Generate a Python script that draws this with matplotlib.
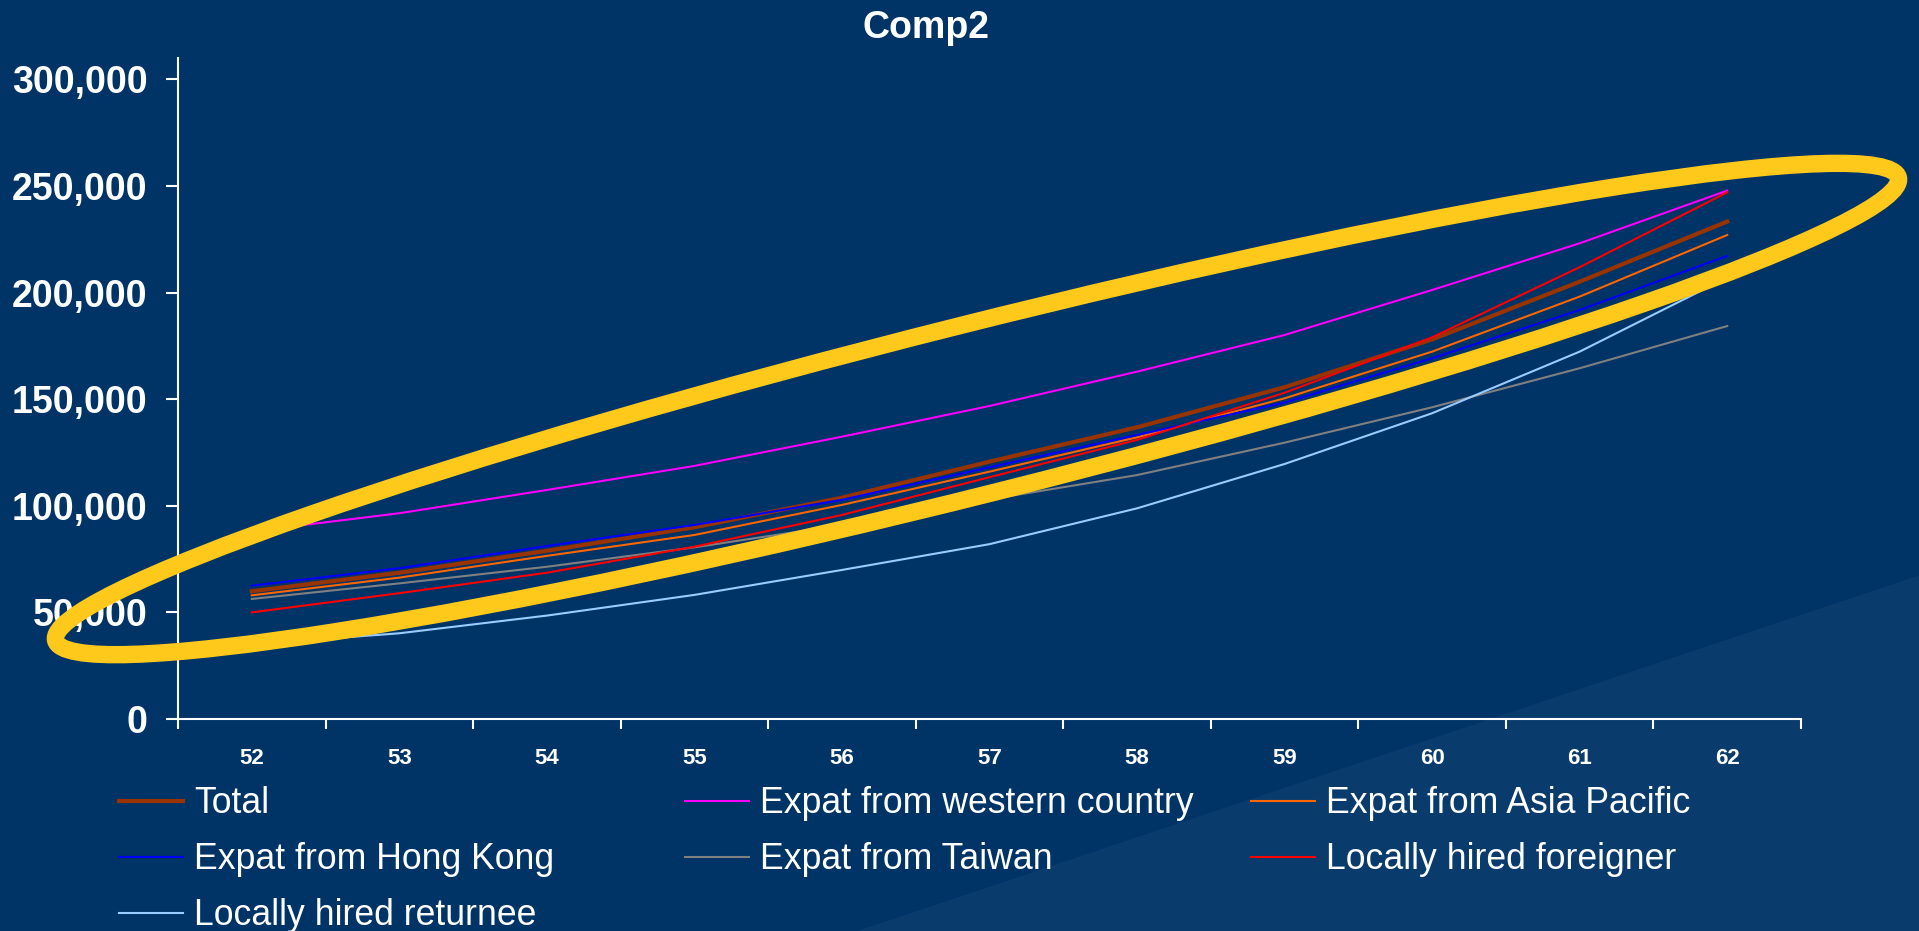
import matplotlib
matplotlib.use("Agg")
import matplotlib.pyplot as plt
from matplotlib.patches import Ellipse, Polygon
from matplotlib.ticker import FuncFormatter, FixedLocator

plt.rcParams['font.family'] = ['Liberation Sans', 'DejaVu Sans']

# data (thousands)
years = [52, 53, 54, 55, 56, 57, 58, 59, 60, 61, 62]
total = [59.9, 68.6, 78.9, 89.9, 103.8, 120.7, 136.8, 155.6, 178.0, 205.1, 233.3]
western = [88.0, 96.5, 107.4, 118.7, 132.4, 146.8, 162.9, 180.1, 201.2, 223.1, 247.8]
asia_pac = [58.0, 66.3, 76.5, 86.3, 100.4, 116.0, 132.1, 150.4, 172.3, 198.1, 227.0]
hong_kong = [62.5, 70.7, 81.1, 91.0, 102.8, 118.0, 133.2, 148.4, 169.2, 191.8, 217.2]
taiwan = [56.3, 63.6, 71.4, 80.5, 91.0, 103.0, 114.4, 129.6, 146.2, 164.5, 184.3]
local_foreign = [50.0, 59.0, 68.6, 80.8, 95.7, 113.4, 130.9, 153.0, 179.0, 211.9, 247.0]
returnee = [35.0, 40.2, 48.5, 58.2, 69.9, 82.0, 98.8, 119.6, 143.4, 172.3, 207.0]

series = [
    ("Total", total, "#993300", 3.0),
    ("Expat from western country", western, "#FF00FF", 1.5),
    ("Expat from Asia Pacific", asia_pac, "#FF6600", 1.5),
    ("Expat from Hong Kong", hong_kong, "#0000FF", 1.5),
    ("Expat from Taiwan", taiwan, "#808080", 1.5),
    ("Locally hired foreigner", local_foreign, "#FF0000", 1.5),
    ("Locally hired returnee", returnee, "#99CCFF", 1.5),
]

bg = "#003366"
fig = plt.figure(figsize=(19.19, 9.31), dpi=100, facecolor=bg)

# lighter diagonal band in the lower right
fig.add_artist(Polygon([(857 / 1919, 0), (1, 0.382), (1, 0)], closed=True,
                       transform=fig.transFigure, facecolor="#093b6d",
                       edgecolor="none", zorder=0))

ax = fig.add_axes([178 / 1919, 1 - 719 / 931, (1801 - 178) / 1919, (719 - 58) / 931])
ax.set_facecolor("none")

handles = {}
for name, vals, col, lw in series:
    (h,) = ax.plot(years, [v * 1000 for v in vals], color=col, lw=lw, label=name)
    handles[name] = h

ax.set_xlim(51.5, 62.5)
ax.set_ylim(0, 310000)
ax.set_yticks(range(0, 300001, 50000))
ax.yaxis.set_major_formatter(FuncFormatter(lambda v, p: f"{int(v):,}"))
ax.set_xticks(years)
ax.xaxis.set_minor_locator(FixedLocator([y + 0.5 for y in [51] + years]))

for s in ["top", "right"]:
    ax.spines[s].set_visible(False)
for s in ["left", "bottom"]:
    ax.spines[s].set_color("white")
    ax.spines[s].set_linewidth(1.5)

ax.tick_params(axis="y", colors="white", length=9, width=1.5, pad=13,
               labelsize=27)
ax.tick_params(axis="x", which="major", colors="white", length=0, pad=21,
               labelsize=16)
ax.tick_params(axis="x", which="minor", colors="white", length=7, width=1.5)
for lbl in ax.get_yticklabels() + ax.get_xticklabels():
    lbl.set_fontweight("bold")

fig.text(926 / 1919, 1 - 28 / 931, "Comp2", color="white", fontsize=27,
         fontweight="bold", ha="center", va="center")

# yellow highlight ring
ring = Ellipse((977 / 100, (931 - 409) / 100), 19.0, 1.70, angle=14.1,
               transform=fig.dpi_scale_trans, fill=False,
               edgecolor="#FFC91B", lw=12.5, zorder=10)
fig.add_artist(ring)

# legend: three columns laid out row by row
cols = [
    (119, ["Total", "Expat from Hong Kong", "Locally hired returnee"]),
    (685, ["Expat from western country", "Expat from Taiwan"]),
    (1251, ["Expat from Asia Pacific", "Locally hired foreigner"]),
]
for x0, names in cols:
    leg = fig.legend([handles[n] for n in names], names, loc="upper left",
                     bbox_to_anchor=(x0 / 1919, 1 - 786 / 931),
                     frameon=False, fontsize=25.7, labelcolor="white",
                     handlelength=1.8, handletextpad=0.3, borderpad=0,
                     borderaxespad=0, labelspacing=0.59)

fig.savefig("out.png", dpi=100, facecolor=bg)
